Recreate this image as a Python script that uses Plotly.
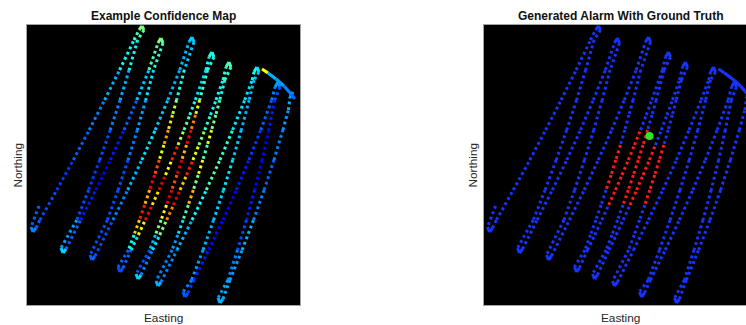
import math
import plotly.graph_objects as go

# ---------------- data (survey units) ----------------
TITLE_LEFT = "Example Confidence Map"
TITLE_RIGHT = "Generated Alarm With Ground Truth"
X_LABEL = "Easting"
Y_LABEL = "Northing"

E_RANGE = [0.0, 27.3]
N_RANGE = [0.0, 28.0]

# vehicle track waypoints (turns and points along each sweep leg)
TRACK_E = [
    1.20, 0.40, 0.60, 0.90, 1.29, 2.98, 4.63, 6.22, 7.76, 9.26, 10.70, 11.20, 11.50, 11.70,
    11.06, 10.21, 9.31, 8.32, 7.27, 6.16, 4.98, 3.40, 3.60, 3.90,
    5.36, 6.88, 8.33, 9.70, 10.98, 12.19, 13.10, 13.40, 13.60,
    12.66, 11.87, 11.03, 10.10, 9.11, 8.04, 6.30, 6.50, 6.80,
    8.59, 10.07, 11.48, 12.82, 14.08, 15.27, 16.20, 16.50, 16.70,
    15.73, 14.96, 14.55, 14.13, 13.69, 13.23, 12.76, 12.26, 11.76, 11.24, 10.70, 10.14, 9.10, 9.30, 9.60,
    10.40, 11.13, 11.83, 12.52, 13.20, 13.85, 14.48, 15.10, 15.70, 16.28, 16.83, 17.90, 18.20, 18.50, 18.70,
    18.06, 17.27, 16.85, 16.41, 15.95, 15.48, 14.99, 14.48, 13.95, 13.41, 12.84, 12.27, 10.90, 11.10, 11.40,
    12.55, 13.27, 13.97, 14.65, 15.31, 15.96, 16.59, 17.19, 17.78, 18.35, 18.90, 19.60, 19.90, 20.20, 20.40,
    19.78, 19.28, 18.88, 18.46, 18.04, 17.58, 17.12, 16.63, 16.13, 15.61, 15.07, 14.51, 12.90, 13.10, 13.40,
    15.00, 16.50, 17.93, 19.29, 20.56, 21.77, 22.52, 22.70, 23.00, 23.20,
    22.70, 22.22, 21.43, 20.57, 19.65, 18.66, 17.60, 16.47, 15.60, 15.80, 16.10,
    16.69, 18.17, 19.59, 20.93, 22.19, 23.37, 24.47, 24.80, 25.10, 25.30,
    24.78, 24.18, 23.51, 22.77, 21.95, 21.05, 20.09, 19.10, 19.30, 19.60,
    20.29, 21.51, 22.65, 23.71, 24.69, 25.59, 26.14, 26.30, 26.60,
]
TRACK_N = [
    9.90, 7.80, 7.30, 7.70, 8.50, 11.50, 14.50, 17.50, 20.50, 23.50, 26.50, 27.50, 27.90, 27.50,
    26.50, 23.50, 20.50, 17.50, 14.50, 11.50, 8.50, 5.70, 5.20, 5.60,
    8.50, 11.50, 14.50, 17.50, 20.50, 23.50, 26.20, 26.70, 26.20,
    23.50, 20.50, 17.50, 14.50, 11.50, 8.50, 5.00, 4.50, 4.90,
    8.50, 11.50, 14.50, 17.50, 20.50, 23.50, 26.30, 26.80, 26.30,
    23.50, 20.50, 19.00, 17.50, 16.00, 14.50, 13.00, 11.50, 10.00, 8.50, 7.00, 5.50, 3.80, 3.30, 3.70,
    5.50, 7.00, 8.50, 10.00, 11.50, 13.00, 14.50, 16.00, 17.50, 19.00, 20.50, 23.50, 24.80, 25.30, 24.80,
    23.50, 20.50, 19.00, 17.50, 16.00, 14.50, 13.00, 11.50, 10.00, 8.50, 7.00, 5.50, 3.10, 2.60, 3.00,
    5.50, 7.00, 8.50, 10.00, 11.50, 13.00, 14.50, 16.00, 17.50, 19.00, 20.50, 22.50, 23.80, 24.30, 23.80,
    22.50, 20.50, 19.00, 17.50, 16.00, 14.50, 13.00, 11.50, 10.00, 8.50, 7.00, 5.50, 2.40, 1.90, 2.30,
    5.50, 8.50, 11.50, 14.50, 17.50, 20.50, 22.50, 23.30, 23.80, 23.30,
    22.50, 20.50, 17.50, 14.50, 11.50, 8.50, 5.50, 2.50, 1.30, 0.80, 1.20,
    2.50, 5.50, 8.50, 11.50, 14.50, 17.50, 20.50, 21.80, 22.30, 21.80,
    20.50, 17.50, 14.50, 11.50, 8.50, 5.50, 2.50, 0.70, 0.20, 0.60,
    2.50, 5.50, 8.50, 11.50, 14.50, 17.50, 19.50, 20.80, 21.30,
]
# detector confidence along the track (one value per stretch between waypoints)
SEG_CONF = [
    .22, .25, .25, .22, .20, .18, .22, .25, .30, .38, .45, .50, .50,
    .45, .38, .30, .25, .20, .18, .20, .28, .33, .33,
    .22, .15, .12, .15, .22, .32, .45, .50, .48,
    .42, .35, .28, .25, .20, .20, .20, .22, .22,
    .20, .25, .30, .35, .32, .30, .30, .32, .32,
    .32, .40, .55, .65, .72, .60, .80, .88, .70, .85, .68, .40, .22, .20, .20,
    .22, .35, .60, .88, .65, .90, .62, .85, .55, .45, .40, .35, .38, .40, .40,
    .40, .45, .60, .75, .88, .70, .92, .80, .90, .62, .50, .30, .20, .33, .33,
    .25, .35, .50, .75, .90, .68, .85, .60, .50, .42, .38, .38, .42, .45, .45,
    .42, .40, .45, .50, .60, .45, .62, .50, .70, .45, .35, .28, .25, .30, .30,
    .25, .30, .38, .45, .42, .35, .35, .40, .40, .35,
    .32, .30, .30, .32, .35, .32, .30, .28, .25, .22, .20,
    .18, .15, .13, .12, .15, .18, .22, .25, .28, .25,
    .20, .15, .12, .12, .15, .20, .25, .28, .30, .30,
    .30, .28, .30, .25, .22, .25, .28, .30, .30,
]
# stretches of the track (waypoint index spans) flagged by the generated alarm
ALARM_SPANS = [(55, 58), (69, 74), (84, 89), (99, 103), (115, 119)]

# short transit link at the north-east corner
LINK_E = [23.5, 24.1, 24.9, 25.7, 26.4, 26.8]
LINK_N = [23.6, 23.2, 22.6, 21.9, 21.1, 20.6]
LINK_CONF = [0.62, 0.30, 0.28, 0.25, 0.22]

# ground truth target location
TRUTH_E = [16.6]
TRUTH_N = [16.9]

# ---------------- helpers ----------------
JET = [(0.0, (0, 0, 143)), (0.125, (0, 0, 255)), (0.375, (0, 255, 255)),
       (0.625, (255, 255, 0)), (0.875, (255, 0, 0)), (1.0, (128, 0, 0))]


def jet(v):
    v = max(0.0, min(1.0, v))
    for (a, ca), (b, cb) in zip(JET[:-1], JET[1:]):
        if v <= b:
            t = (v - a) / (b - a)
            c = [round(ca[k] + t * (cb[k] - ca[k])) for k in range(3)]
            return "rgb(%d,%d,%d)" % tuple(c)
    return "rgb(128,0,0)"


BLUE = "rgb(22,52,255)"
RED = "rgb(255,24,24)"
GREEN = "rgb(40,235,40)"
DOT = "2.8px,3px"

fig = go.Figure()


def draw_track(xa, ya, es, ns, colors):
    nseg = min(len(es), len(ns)) - 1
    nseg = min(nseg, len(colors))
    groups = {}
    for i in range(nseg):
        e0, n0, e1, n1 = es[i], ns[i], es[i + 1], ns[i + 1]
        dense = math.hypot(e1 - e0, n1 - n0) < 0.8  # slow turns -> dense samples
        key = (colors[i], dense)
        gx, gy = groups.setdefault(key, ([], []))
        gx += [e0, e1, None]
        gy += [n0, n1, None]
    for dense_pass in (False, True):
        for (col, dense), (gx, gy) in groups.items():
            if dense != dense_pass:
                continue
            fig.add_trace(go.Scatter(
                x=gx, y=gy, mode="lines", xaxis=xa, yaxis=ya,
                line=dict(color=col, width=3, dash="solid" if dense else DOT),
                hoverinfo="skip", showlegend=False))


def draw_link(xa, ya, colors):
    for i in range(len(LINK_E) - 1):
        fig.add_trace(go.Scatter(
            x=LINK_E[i:i + 2], y=LINK_N[i:i + 2], mode="lines", xaxis=xa, yaxis=ya,
            line=dict(color=colors[i], width=3.2), hoverinfo="skip", showlegend=False))


# left: confidence map
left_cols = [jet(c) for c in SEG_CONF]
draw_track("x", "y", TRACK_E, TRACK_N, left_cols)
draw_link("x", "y", [jet(c) for c in LINK_CONF])

# right: alarm + ground truth
alarm = set()
for a, b in ALARM_SPANS:
    for i in range(a, b):
        alarm.add(i)
right_cols = [RED if i in alarm else BLUE for i in range(len(SEG_CONF))]
draw_track("x2", "y2", TRACK_E, TRACK_N, right_cols)
draw_link("x2", "y2", [BLUE] * (len(LINK_E) - 1))
fig.add_trace(go.Scatter(x=TRUTH_E, y=TRUTH_N, mode="markers", xaxis="x2", yaxis="y2",
                         marker=dict(color=GREEN, size=8, line=dict(width=0)),
                         hoverinfo="skip", showlegend=False))

# ---------------- layout ----------------
W, H = 746, 325
L1, R1 = 27.0, 300.0
L2 = 483.5
TOP, BOT = 25.0, 305.0
frame = "#a3a3a3"

ax_common = dict(showgrid=False, zeroline=False, showticklabels=False, ticks="",
                 showline=True, linecolor=frame, linewidth=1, fixedrange=True)

fig.update_layout(
    width=W, height=H, autosize=False,
    margin=dict(l=0, r=0, t=0, b=0, pad=0),
    paper_bgcolor="white", plot_bgcolor="black",
    xaxis=dict(domain=[L1 / W, R1 / W], range=E_RANGE, mirror=True, anchor="y", **ax_common),
    yaxis=dict(domain=[1 - BOT / H, 1 - TOP / H], range=N_RANGE, mirror=True, anchor="x", **ax_common),
    xaxis2=dict(domain=[L2 / W, 1.0], range=[E_RANGE[0], E_RANGE[0] + (W - L2) / 10.0],
                mirror=True, anchor="y2", **ax_common),
    yaxis2=dict(domain=[1 - BOT / H, 1 - TOP / H], range=N_RANGE, mirror=False, anchor="x2", **ax_common),
    font=dict(family="Liberation Sans, Arial, Helvetica, sans-serif", size=12, color="#262626"),
    showlegend=False,
)

cx1 = (L1 + R1) / 2
cx2 = L2 + (R1 - L1) / 2
ann = []
for cx, title, nx in ((cx1, TITLE_LEFT, 17.5), (cx2, TITLE_RIGHT, 472.5)):
    ann.append(dict(x=cx / W, y=1 - 16 / H, xref="paper", yref="paper", text="<b>%s</b>" % title,
                    showarrow=False, xanchor="center", yanchor="middle",
                    font=dict(size=12, color="#111111")))
    ann.append(dict(x=cx / W, y=1 - 318 / H, xref="paper", yref="paper", text=X_LABEL,
                    showarrow=False, xanchor="center", yanchor="middle",
                    font=dict(size=11.8, color="#262626")))
    ann.append(dict(x=nx / W, y=1 - 165 / H, xref="paper", yref="paper", text=Y_LABEL,
                    showarrow=False, xanchor="center", yanchor="middle", textangle=-90,
                    font=dict(size=11.8, color="#262626")))
fig.update_layout(annotations=ann)

fig.write_html(
    "out.html",
    config={"displayModeBar": False},
    post_script="document.body.style.margin='0';document.body.style.overflow='hidden';",
)
